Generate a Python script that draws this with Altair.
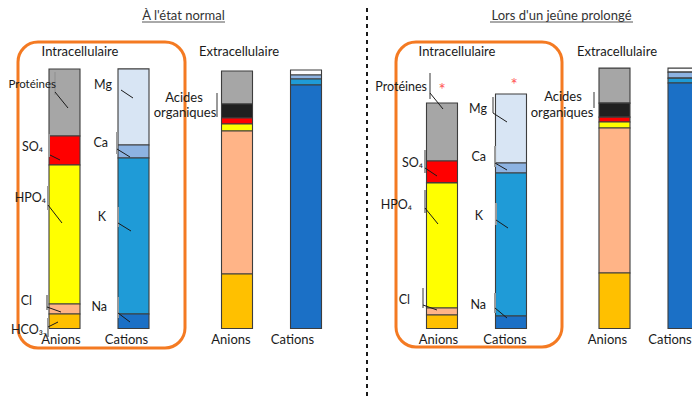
import altair as alt
import pandas as pd

# ---------------- data (mEq/L-like units) ----------------
PANELS = ["À l'état normal", "Lors d'un jeûne  prolongé"]

INTRA_ANION_IONS = ["Protéines", "SO4", "HPO4", "Cl", "HCO3"]
EXTRA_ANION_IONS = ["Protéines", "Acides organiques", "SO4", "HPO4", "Cl", "HCO3"]
INTRA_CATION_IONS = ["Mg", "Ca", "K", "Na"]
EXTRA_CATION_IONS = ["Mg ext", "Ca", "K", "Na"]

NORMAL_INTRA_ANIONS = [51.5, 22.3, 106.9, 7.7, 11.2]
NORMAL_INTRA_CATIONS = [58.5, 10.0, 120.0, 11.2]
NORMAL_EXTRA_ANIONS = [25.4, 10.8, 4.6, 5.4, 110.0, 41.9]
NORMAL_EXTRA_CATIONS = [3.8, 3.1, 4.6, 187.3]

FAST_INTRA_ANIONS = [44.6, 16.9, 96.2, 5.4, 10.4]
FAST_INTRA_CATIONS = [53.1, 7.7, 110.0, 9.6]
FAST_EXTRA_ANIONS = [26.9, 10.8, 3.8, 4.6, 111.5, 42.7]
FAST_EXTRA_CATIONS = [3.1, 4.6, 3.8, 188.8]

ION_KEYS = ["Protéines", "Acides organiques", "SO4", "HPO4", "Cl", "HCO3",
            "Mg", "Mg ext", "Ca", "K", "Na"]
ION_COLORS = ["#a6a6a6", "#202020", "#ff0000", "#ffff00", "#ffb487", "#ffc000",
              "#d8e5f4", "#fbfcfe", "#8db3e2", "#1f9bd7", "#1b70c6"]

# columns inside a panel (with empty spacer slots to reproduce the spacing)
SLOTS = ["IA", "g1", "IC", "g2", "g3", "EA", "g4", "EC"]

rows = []
def add(panel, slot, ions, values):
    n = len(ions)
    for i, (ion, v) in enumerate(zip(ions, values)):
        rows.append({"panel": panel, "slot": slot, "ion": ion, "value": v, "order": n - i})

add(PANELS[0], "IA", INTRA_ANION_IONS, NORMAL_INTRA_ANIONS)
add(PANELS[0], "IC", INTRA_CATION_IONS, NORMAL_INTRA_CATIONS)
add(PANELS[0], "EA", EXTRA_ANION_IONS, NORMAL_EXTRA_ANIONS)
add(PANELS[0], "EC", EXTRA_CATION_IONS, NORMAL_EXTRA_CATIONS)
add(PANELS[1], "IA", INTRA_ANION_IONS, FAST_INTRA_ANIONS)
add(PANELS[1], "IC", INTRA_CATION_IONS, FAST_INTRA_CATIONS)
add(PANELS[1], "EA", EXTRA_ANION_IONS, FAST_EXTRA_ANIONS)
add(PANELS[1], "EC", EXTRA_CATION_IONS, FAST_EXTRA_CATIONS)
bars_df = pd.DataFrame(rows)

# ---------------- layout (page pixel coordinates; page margin is 8px) ----------------
M = 8
FONT = "Lato"
W, H = 684, 389

def P(v):
    return v - M

seg_labels = [  # text, right edge x, centre y
    ("SO₄", 43, 147), ("HPO₄", 46, 198), ("Cl", 32, 301), ("HCO₃₋", 47, 330),
    ("Mg", 112, 85), ("Ca", 108, 143), ("K", 106, 217), ("Na", 107, 307),
    ("Protéines", 427, 87), ("SO₄", 423, 163), ("HPO₄", 412, 205), ("Cl", 410, 300),
    ("Mg", 487, 109), ("Ca", 486, 157), ("K", 483, 216), ("Na", 486, 305),
]
edge_labels = [("Protéines", 56, 85)]
center_labels = [  # text, centre x, centre y
    ("Acides", 184, 98), ("organiques", 185, 113),
    ("Acides", 563, 97), ("organiques", 562, 113),
    ("Intracellulaire", 80, 52), ("Extracellulaire", 239, 52),
    ("Intracellulaire", 457, 52), ("Extracellulaire", 617, 52),
    ("Anions", 61, 340), ("Cations", 126.5, 340), ("Anions", 231, 340), ("Cations", 292.5, 340),
    ("Anions", 438.5, 340), ("Cations", 505, 340), ("Anions", 607.5, 340), ("Cations", 670, 340),
]
titles = [(PANELS[0], 183.5, 15.5), (PANELS[1], 561.5, 15.5)]
underlines = [(142, 225, 22), (490, 633, 22)]
stars = [("*", 442, 91), ("*", 514, 86)]

grey_leads = [
    (55, 72, 55, 95), (49, 134, 49, 157), (48, 186, 48, 210), (47, 295, 47, 310), (48, 318, 48, 337),
    (117, 132, 117, 154), (118, 207, 118, 227), (118, 297, 118, 318), (217, 93, 217, 117),
    (430, 73, 430, 99), (425, 150, 425, 173), (425, 190, 425, 213), (423, 288, 423, 308),
    (493, 97, 493, 113), (495, 146, 495, 167), (496, 203, 496, 225), (495, 293, 495, 313),
    (594, 92, 594, 108),
]
black_leads = [
    (55, 92, 68, 108), (50, 155, 60, 160), (48, 205, 62, 223), (47, 307, 61, 312), (48, 327, 58, 322),
    (121, 90, 133, 98), (117, 149, 130, 157), (118, 223, 131, 231), (118, 313, 130, 322),
    (430, 93, 443, 109), (425, 168, 437, 176), (425, 208, 438, 224), (423, 305, 437, 310),
    (493, 113, 507, 122), (495, 163, 507, 170), (496, 220, 508, 228), (495, 308, 507, 318),
]
boxes = [(18, 185, 42, 348), (396, 562, 42, 347)]

def df_text(items):
    return pd.DataFrame([{"text": t, "x": P(x), "y": P(y)} for t, x, y in items])

def df_lines(items):
    return pd.DataFrame([{"x": P(a), "y": P(b), "x2": P(c), "y2": P(d)} for a, b, c, d in items])

X = lambda f: alt.X(f, type="quantitative", scale=None, axis=None)
Y = lambda f: alt.Y(f, type="quantitative", scale=None, axis=None)

box_layer = alt.Chart(pd.DataFrame([{"x": P(a), "x2": P(b), "y": P(c), "y2": P(d)} for a, b, c, d in boxes])).mark_rect(
    fill="white", fillOpacity=0, stroke="#f47a22", strokeWidth=3, cornerRadius=20
).encode(x=X("x"), x2="x2", y=Y("y"), y2="y2")

bars = alt.Chart(bars_df).mark_bar(stroke="#3d3d3d", strokeWidth=1.1).encode(
    x=alt.X("panel:N", scale=alt.Scale(domain=PANELS, range=[P(49), P(699)],
                                        paddingInner=0.2781, paddingOuter=0), axis=None),
    xOffset=alt.XOffset("slot:N", scale=alt.Scale(domain=SLOTS, paddingInner=0.1014, paddingOuter=0)),
    y=alt.Y("value:Q", stack="zero",
            scale=alt.Scale(domain=[0, 200], range=[P(328.5), P(68.5)], nice=False), axis=None),
    color=alt.Color("ion:N", scale=alt.Scale(domain=ION_KEYS, range=ION_COLORS), legend=None),
    order=alt.Order("order:Q"),
)

grey_layer = alt.Chart(df_lines(grey_leads)).mark_rule(color="#9a9a9a", strokeWidth=2).encode(
    x=X("x"), y=Y("y"), x2="x2", y2="y2")
black_layer = alt.Chart(df_lines(black_leads)).mark_rule(color="#1a1a1a", strokeWidth=1).encode(
    x=X("x"), y=Y("y"), x2="x2", y2="y2")
underline_layer = alt.Chart(pd.DataFrame([{"x": P(a), "x2": P(b), "y": P(c)} for a, b, c in underlines])).mark_rule(
    color="#555555", strokeWidth=1).encode(x=X("x"), x2="x2", y=Y("y"))
dash_layer = alt.Chart(pd.DataFrame([{"x": P(367), "y": 0, "y2": H}])).mark_rule(
    color="#1a1a1a", strokeWidth=2, strokeDash=[4, 4]).encode(x=X("x"), y=Y("y"), y2="y2")

seg_text = alt.Chart(df_text(seg_labels)).mark_text(
    align="right", baseline="middle", font=FONT, fontSize=12.5, color="#1a1a1a").encode(
    x=X("x"), y=Y("y"), text="text:N")
edge_text = alt.Chart(df_text(edge_labels)).mark_text(
    align="right", baseline="middle", font=FONT, fontSize=11.5, color="#1a1a1a").encode(
    x=X("x"), y=Y("y"), text="text:N")
center_text = alt.Chart(df_text(center_labels)).mark_text(
    align="center", baseline="middle", font=FONT, fontSize=13, color="#1a1a1a").encode(
    x=X("x"), y=Y("y"), text="text:N")
title_text = alt.Chart(df_text(titles)).mark_text(
    align="center", baseline="middle", font=FONT, fontSize=13, color="#333333").encode(
    x=X("x"), y=Y("y"), text="text:N")
star_text = alt.Chart(df_text(stars)).mark_text(
    align="center", baseline="middle", font=FONT, fontSize=17, color="#ff5555").encode(
    x=X("x"), y=Y("y"), text="text:N")

chart = alt.layer(
    box_layer, dash_layer, bars, grey_layer, black_layer, underline_layer,
    seg_text, edge_text, center_text, title_text, star_text
).resolve_scale(x="independent", y="independent").properties(
    width=W, height=H, autosize="none", padding=0
).configure_view(stroke=None)

chart.save("out.html", embed_options={"renderer": "svg", "actions": False})
